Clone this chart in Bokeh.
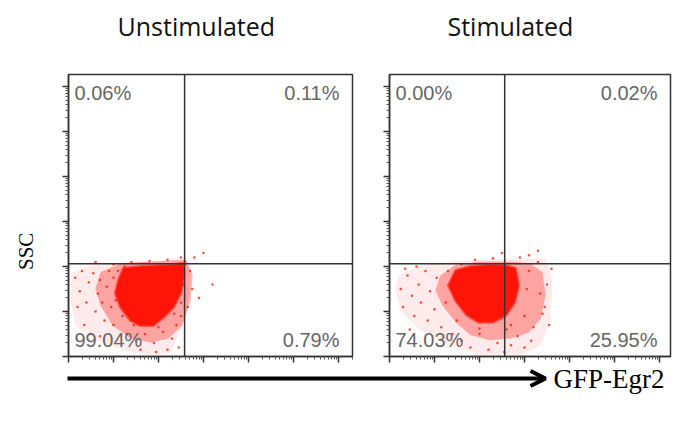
import math
from bokeh.plotting import figure
from bokeh.layouts import column, row
from bokeh.models import (Range1d, FixedTicker, Span, Arrow, OpenHead, CustomJSTickFormatter)
from bokeh.core.properties import value
from bokeh.embed import file_html
from bokeh.resources import INLINE

# ---------------- data (log10 decades of fluorescence / SSC) ----------------
panel_titles = ["Unstimulated", "Stimulated"]
x_label = "GFP-Egr2"
y_label = "SSC"

# quadrant gate positions (decades)
gate_x = [2.58, 2.56]
gate_y = [2.06, 2.06]

# quadrant percentages: UL, UR, LL, LR
unstim_pct = ["0.06%", "0.11%", "99.04%", "0.79%"]
stim_pct = ["0.00%", "0.02%", "74.03%", "25.95%"]

# density contours (outer halo, middle, dense core)
unstim_halo_x = [0.09, 0.49, 1.16, 1.82, 2.60, 2.71, 2.67, 2.49, 2.27, 1.82, 1.27, 0.60, 0.16, 0.04]
unstim_halo_y = [1.87, 2.02, 2.09, 2.11, 2.13, 1.91, 1.24, 0.58, 0.09, 0.04, 0.13, 0.36, 0.69, 1.24]
unstim_mid_x = [0.71, 1.16, 1.82, 2.62, 2.76, 2.71, 2.53, 2.22, 1.82, 1.38, 0.98, 0.71, 0.60]
unstim_mid_y = [1.87, 2.07, 2.11, 2.16, 1.80, 1.24, 0.69, 0.40, 0.31, 0.40, 0.69, 1.13, 1.51]
unstim_core_x = [1.22, 1.60, 1.98, 2.33, 2.56, 2.56, 2.49, 2.33, 2.11, 1.89, 1.60, 1.38, 1.16, 1.04, 1.11]
unstim_core_y = [1.96, 2.00, 2.02, 2.04, 2.07, 1.76, 1.40, 1.09, 0.87, 0.69, 0.69, 0.80, 1.09, 1.40, 1.69]

unstim_dot_x = [0.15, 0.25, 0.30, 0.40, 0.45, 0.55, 0.60, 0.65, 0.70, 0.75, 0.80, 0.85, 0.90, 0.95, 1.00,
                1.00, 0.35, 0.50, 0.20, 0.70, 1.30, 1.50, 1.70, 1.90, 2.10, 2.30, 2.45, 2.20, 1.95, 1.60,
                2.40, 2.50, 2.70, 2.75, 2.80, 2.90, 3.00, 2.65, 3.20, 1.00, 1.40, 1.80, 2.20, 2.50, 0.60,
                1.10, 1.05, 1.20, 1.45, 2.00, 2.35, 2.50, 2.55, 1.25, 2.40]
unstim_dot_y = [1.75, 1.45, 1.90, 1.20, 1.65, 1.85, 1.00, 1.40, 1.70, 1.20, 0.80, 1.55, 1.90, 1.10, 0.70,
                1.75, 0.70, 0.50, 1.10, 0.45, 0.50, 0.35, 0.50, 0.30, 0.55, 0.40, 0.20, 0.15, 0.10, 0.15,
                0.70, 0.90, 1.90, 1.50, 2.20, 1.30, 2.30, 1.10, 1.60, 2.05, 2.10, 2.12, 2.15, 2.20, 2.10,
                1.90, 1.25, 0.90, 0.70, 0.65, 0.95, 1.20, 1.60, 2.00, 1.95]

stim_halo_x = [0.20, 0.69, 1.58, 2.69, 3.47, 3.62, 3.58, 3.36, 2.91, 2.02, 1.36, 0.69, 0.24, 0.13]
stim_halo_y = [1.80, 2.02, 2.13, 2.18, 2.18, 1.69, 0.80, 0.24, 0.04, 0.04, 0.24, 0.58, 1.02, 1.47]
stim_mid_x = [1.13, 1.47, 2.02, 2.69, 3.13, 3.40, 3.47, 3.36, 3.09, 2.69, 2.24, 1.80, 1.47, 1.18, 1.02]
stim_mid_y = [1.80, 2.04, 2.11, 2.11, 2.07, 1.87, 1.36, 0.84, 0.53, 0.40, 0.36, 0.47, 0.76, 1.13, 1.47]
stim_core_x = [1.47, 1.80, 2.24, 2.58, 2.80, 2.87, 2.78, 2.58, 2.29, 1.98, 1.71, 1.47, 1.31]
stim_core_y = [1.91, 2.00, 2.04, 2.02, 1.96, 1.58, 1.20, 0.91, 0.76, 0.76, 0.93, 1.24, 1.58]

stim_dot_x = [0.25, 0.30, 0.40, 0.50, 0.55, 0.65, 0.70, 0.80, 0.85, 0.90, 1.00, 1.05, 1.15, 0.45, 0.35, 0.60,
              1.60, 1.80, 2.00, 2.20, 2.40, 2.55, 2.70, 2.85, 3.00, 3.15, 1.40, 2.60,
              3.45, 3.50, 3.55, 3.30, 3.60, 3.20, 3.35, 3.40,
              1.90, 2.30, 2.90, 3.10, 2.50, 3.30,
              1.30, 1.25, 1.50, 2.00, 2.70, 3.00, 3.05, 3.10, 1.60]
stim_dot_y = [1.50, 1.10, 1.80, 1.35, 0.90, 1.60, 1.20, 1.90, 0.80, 1.45, 1.05, 1.75, 0.65, 0.60, 1.95, 2.00,
              0.35, 0.20, 0.50, 0.15, 0.30, 0.10, 0.25, 0.45, 0.20, 0.35, 0.50, 0.60,
              1.10, 1.60, 0.70, 2.10, 1.95, 0.65, 1.40, 0.95,
              2.15, 2.18, 2.20, 2.25, 2.30, 2.35,
              1.90, 1.20, 0.80, 0.62, 0.70, 0.90, 1.50, 1.90, 2.05]

# axis decades
decades = [0, 1, 2, 3, 4, 5, 6]

# ---------------- styling ----------------
RED = "#ff1508"
FRAME = "#333333"
PX_PER_DEC = 45.0
major = decades
minor = [d + math.log10(m) for d in decades for m in range(2, 10)]
TITLE_H = 60
TOP, FRAME_H, BOTTOM = 14, 282, 7
PANEL_H = TOP + FRAME_H + BOTTOM
TOTAL_W, TOTAL_H = 677, 430


def strip(width, height):
    s = figure(width=width, height=height, x_range=Range1d(0, width), y_range=Range1d(0, height),
               output_backend="svg", toolbar_location=None, title_location=None,
               x_axis_location=None, y_axis_location=None,
               min_border_left=0, min_border_right=0, min_border_top=0, min_border_bottom=0)
    s.grid.visible = False
    s.outline_line_color = None
    s.border_fill_color = "white"
    s.background_fill_color = "white"
    return s


def make_panel(pct, halo, mid, core, dots, gx, gy, left, frame_w, right):
    p = figure(width=left + frame_w + right, height=PANEL_H,
               x_range=Range1d(0, frame_w / PX_PER_DEC), y_range=Range1d(0, FRAME_H / PX_PER_DEC),
               output_backend="svg", toolbar_location=None, title_location=None,
               min_border_left=left, min_border_right=right,
               min_border_top=TOP, min_border_bottom=BOTTOM)
    p.grid.visible = False
    p.outline_line_color = FRAME
    p.outline_line_width = 1.5
    p.background_fill_color = "white"
    p.border_fill_color = "white"

    for ax in (p.xaxis[0], p.yaxis[0]):
        ax.ticker = FixedTicker(ticks=major, minor_ticks=minor)
        ax.formatter = CustomJSTickFormatter(code="return ''")
        ax.major_label_standoff = 0
        ax.axis_line_color = FRAME
        ax.axis_line_width = 1.5
        ax.major_tick_line_color = FRAME
        ax.minor_tick_line_color = "#555555"
        ax.major_tick_out = 6
        ax.major_tick_in = 0
        ax.minor_tick_out = 3
        ax.minor_tick_in = 0
        ax.major_tick_line_width = 1.5

    p.patch(halo[0], halo[1], fill_color="#ffe2e2", fill_alpha=0.7, line_color=None)
    p.patch(mid[0], mid[1], fill_color=RED, fill_alpha=0.33, line_color=None)
    p.scatter(dots[0], dots[1], size=2.6, color=RED, alpha=0.75, line_color=None)
    p.patch(core[0], core[1], fill_color=RED, fill_alpha=1.0, line_color=RED, line_alpha=0.6, line_width=3)

    p.add_layout(Span(location=gx, dimension="height", line_color=FRAME, line_width=1.5))
    p.add_layout(Span(location=gy, dimension="width", line_color=FRAME, line_width=1.5))

    x0, x1 = p.x_range.start, p.x_range.end
    y0, y1 = p.y_range.start, p.y_range.end
    common = dict(text_font=value("Liberation Sans"), text_font_size="20px", text_color="#666666")
    p.text(x=[x0], y=[y1], text=[pct[0]], text_align="left", text_baseline="top",
           x_offset=6, y_offset=7, **common)
    p.text(x=[x1], y=[y1], text=[pct[1]], text_align="right", text_baseline="top",
           x_offset=-13, y_offset=7, **common)
    p.text(x=[x0], y=[y0], text=[pct[2]], text_align="left", text_baseline="bottom",
           x_offset=6, y_offset=-6, **common)
    p.text(x=[x1], y=[y0], text=[pct[3]], text_align="right", text_baseline="bottom",
           x_offset=-13, y_offset=-6, **common)
    return p


# titles strip
pt = strip(TOTAL_W, TITLE_H)
pt.text(x=[117, 447], y=[TITLE_H - 25] * 2, text=panel_titles, text_align="left", text_baseline="middle",
        text_font=value("Open Sans"), text_font_size="25px", text_color="#111111")

# y label strip
YL_W = 40
py = strip(YL_W, PANEL_H)
py.text(x=[25], y=[PANEL_H - (250 - TITLE_H)], text=[y_label], angle=math.pi / 2,
        text_align="center", text_baseline="middle",
        text_font=value("Liberation Serif"), text_font_size="21px", text_color="#000000")

p1 = make_panel(unstim_pct,
                (unstim_halo_x, unstim_halo_y), (unstim_mid_x, unstim_mid_y),
                (unstim_core_x, unstim_core_y), (unstim_dot_x, unstim_dot_y),
                gate_x[0], gate_y[0], left=68 - YL_W, frame_w=284, right=18)
p2 = make_panel(stim_pct,
                (stim_halo_x, stim_halo_y), (stim_mid_x, stim_mid_y),
                (stim_core_x, stim_core_y), (stim_dot_x, stim_dot_y),
                gate_x[1], gate_y[1], left=19, frame_w=281, right=7)

# bottom strip with the x-direction arrow
H3 = TOTAL_H - TITLE_H - PANEL_H
p3 = strip(TOTAL_W, H3)
ay = H3 - (378 - TITLE_H - PANEL_H)
p3.add_layout(Arrow(x_start=67, y_start=ay, x_end=545, y_end=ay, line_width=4, line_color="black",
                    end=OpenHead(size=15, line_width=4, line_color="black")))
p3.text(x=[553], y=[ay], text=[x_label], text_align="left", text_baseline="middle",
        text_font=value("Liberation Serif"), text_font_size="27px", text_color="#000000")

layout = column(pt, row(py, p1, p2, spacing=0), p3, spacing=0)
open("out.html", "w").write(file_html(layout, INLINE))
